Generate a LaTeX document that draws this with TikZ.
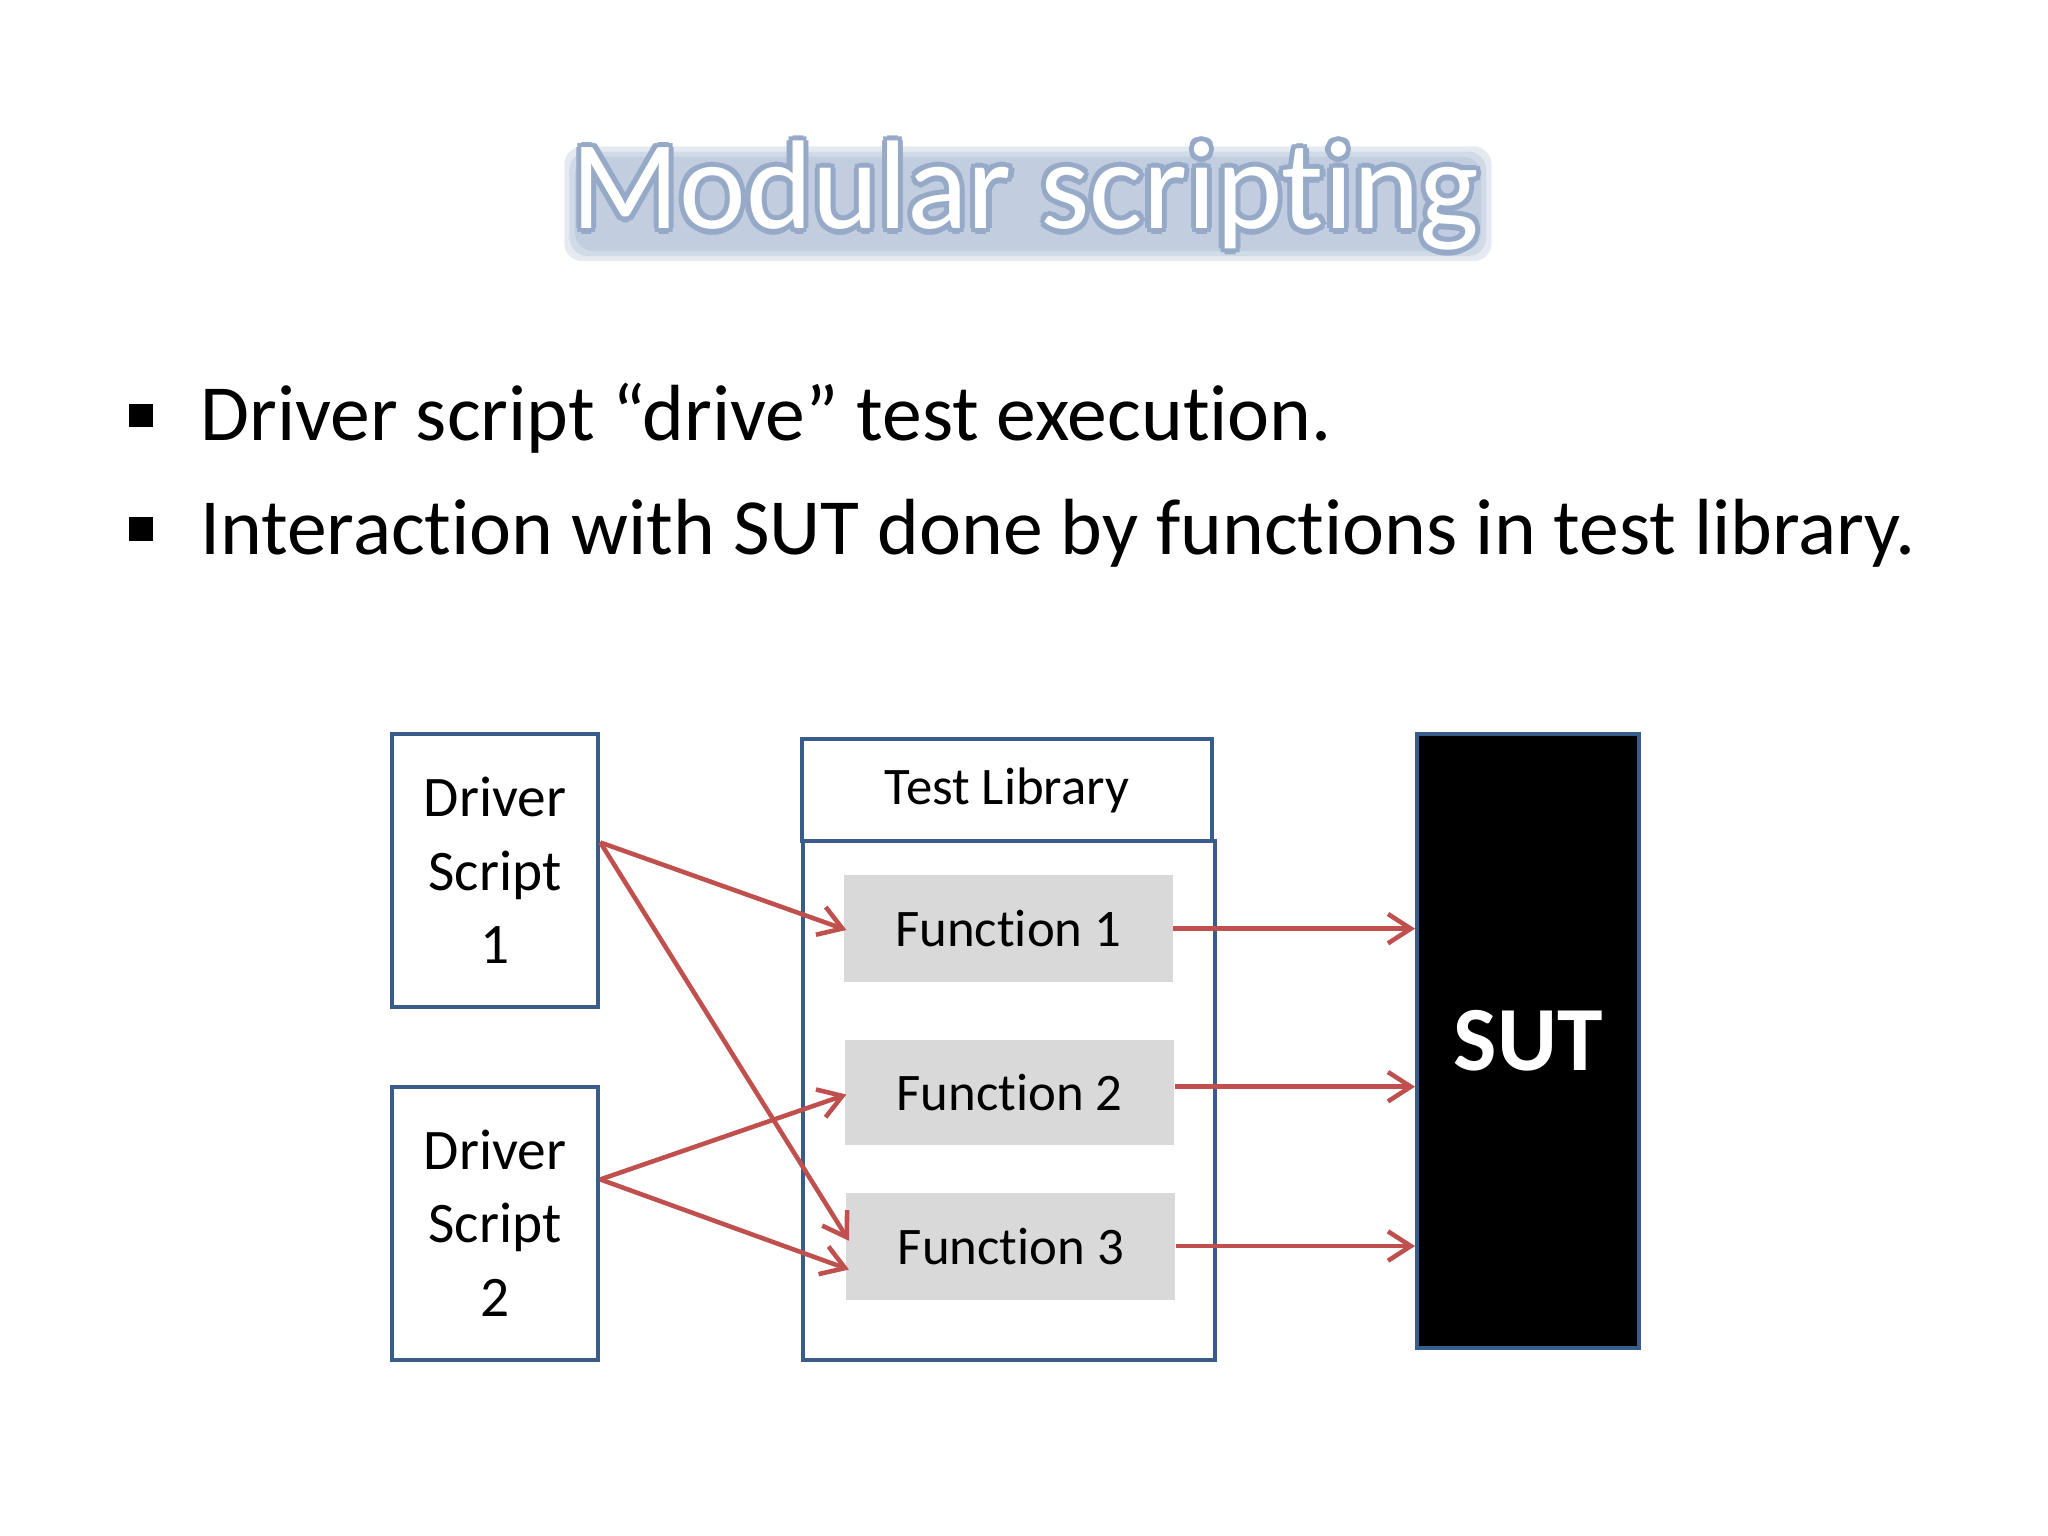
\documentclass[tikz,border=0pt]{standalone}
\usepackage{fontspec}
\setmainfont[RawFeature=-liga]{Carlito}
\usetikzlibrary{arrows.meta}
\begin{document}
\begin{tikzpicture}[x=0.02cm,y=-0.02cm,
  bx/.style={draw=bordc,line width=0.065cm,inner sep=0,align=center},
  fn/.style={fill=fng,inner sep=0},
  arr/.style={draw=arrc,line width=0.07cm,-{Straight Barb[length=0.35cm,width=0.45cm]}}]
\definecolor{bordc}{RGB}{56,93,138}
\definecolor{fng}{RGB}{217,217,217}
\definecolor{arrc}{RGB}{192,80,77}
\definecolor{glowc}{RGB}{150,170,200}
\useasboundingbox (0,0) rectangle (1568,1176);
% title
\foreach \m in {0,4,8}
  \fill[glowc,opacity=0.25,rounded corners=8] (432+\m,112+\m) rectangle (1142-\m,200-\m);
\foreach \dx/\dy in {-4/0,4/0,0/-4,0/4,-3/-3,3/3,-3/3,3/-3}
  \node[text=glowc,font=\fontsize{55pt}{55pt}\selectfont] at (785+\dx,150+\dy) {Modular scripting};
\node[text=white,font=\fontsize{55pt}{55pt}\selectfont] (title) at (785,150) {Modular scripting};
% bullets
\fill (99,309) rectangle (117,327);
\fill (99,396) rectangle (117,414);
\node[anchor=west,inner sep=0,font=\fontsize{34.7pt}{34.7pt}\selectfont] (b1) at (153,320) {Driver script “drive” test execution.};
\node[anchor=west,inner sep=0,font=\fontsize{34.7pt}{34.7pt}\selectfont] (b2) at (153,408) {Interaction with SUT done by functions in test library.};
% boxes
\node[bx,minimum width=3.16cm,minimum height=4.18cm,font=\fontsize{25pt}{32pt}\selectfont] (ds1) at (379,666.5) {Driver\\Script\\1};
\node[bx,minimum width=3.16cm,minimum height=4.18cm,font=\fontsize{25pt}{32pt}\selectfont] (ds2) at (379,936.5) {Driver\\Script\\2};
\node[bx,minimum width=6.28cm,minimum height=1.56cm,font=\fontsize{23pt}{23pt}\selectfont] (tl) at (771,605) {Test Library};
\node[bx,minimum width=6.3cm,minimum height=7.94cm] (body) at (772.5,842.5) {};
\node[fn,minimum width=5.04cm,minimum height=1.64cm,font=\fontsize{23pt}{23pt}\selectfont] (f1) at (772,711) {Function 1};
\node[fn,minimum width=5.04cm,minimum height=1.62cm,font=\fontsize{23pt}{23pt}\selectfont] (f2) at (773,836.5) {Function 2};
\node[fn,minimum width=5.04cm,minimum height=1.64cm,font=\fontsize{23pt}{23pt}\selectfont] (f3) at (774,954) {Function 3};
\node[bx,fill=black,text=white,minimum width=3.4cm,minimum height=9.4cm,font=\bfseries\fontsize{40pt}{40pt}\selectfont] (sut) at (1170,797) {SUT};
% arrows
\coordinate (o1) at (ds1.east |- 0,645);
\coordinate (o2) at (ds2.east |- 0,903);
\draw[arr] (o1) -- (648,712);
\draw[arr] (o1) -- (650,950);
\draw[arr] (o2) -- (648,838);
\draw[arr] (o2) -- (650,972);
\draw[arr] (f1.east) -- (f1.east -| sut.west);
\draw[arr] (f2.east |- 0,832) -- (sut.west |- 0,832);
\draw[arr] (f3.east) -- (f3.east -| sut.west);
\end{tikzpicture}
\end{document}
